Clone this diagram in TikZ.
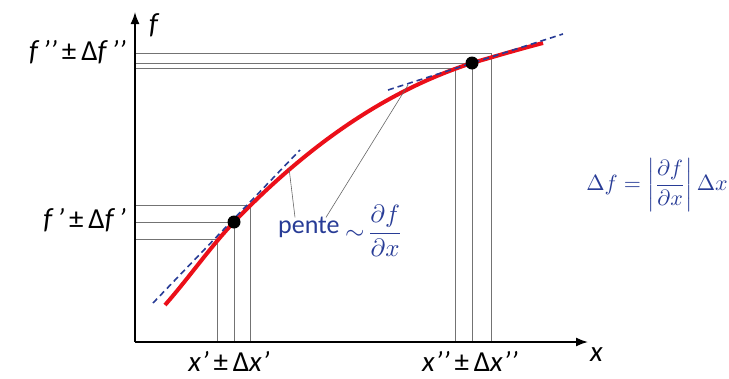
\documentclass[tikz,border=0pt]{standalone}
\usepackage{amsmath}
\usepackage{graphicx}
\usepackage{fontspec}
\setmainfont{Carlito}
\usetikzlibrary{arrows.meta}
\definecolor{cblue}{RGB}{40,60,150}
\definecolor{cred}{RGB}{235,15,25}
\begin{document}
\begin{tikzpicture}[x=1pt,y=-1pt,
  axis/.style={line width=1.6pt,-{Latex[length=12pt,width=9pt]}},
  guide/.style={line width=0.9pt,black!55},
  tangent/.style={line width=1.6pt,cblue,dash pattern=on 6pt off 4pt},
  curve/.style={line width=4pt,cred},
  leader/.style={line width=0.6pt,black!60},
  lbl/.style={font=\fontsize{29}{32}\selectfont,inner sep=0pt},
  mth/.style={font=\fontsize{10}{12}\selectfont,inner sep=0pt,text=cblue},
  dot/.style={circle,fill=black,inner sep=0pt,minimum size=13pt}]
\useasboundingbox (0,0) rectangle (729,378);
% axes
\coordinate (O) at (135,342);
\coordinate (ytop) at (135,12);
\coordinate (xend) at (588,342);
% guide lines
\coordinate (p1) at (234,222);
\coordinate (p1a) at (217,239);
\coordinate (p1b) at (250,205);
\coordinate (p2) at (472,63);
\coordinate (p2a) at (455,68);
\coordinate (p2b) at (491,53);
\foreach \p in {p1,p1a,p1b,p2,p2a,p2b}{
  \draw[guide] (\p) -- (\p |- O);
  \draw[guide] (\p) -- (O |- \p);
}
% tangents
\coordinate (t1s) at (153,303);
\coordinate (t1e) at (300,150);
\coordinate (t2s) at (388,90);
\coordinate (t2e) at (563,34);
% curve
\coordinate (cs) at (165,305);
\coordinate (ce) at (543,43);
\draw[curve] (cs) .. controls (188,279) and (211,246) .. (p1)
  .. controls (314,139) and (392,89) .. (p2)
  .. controls (496,56) and (520,49) .. (ce);
\draw[tangent] (t1s) -- (t1e);
\draw[tangent] (t2s) -- (t2e);
\draw[axis] (O) -- (ytop);
\draw[axis] (O) -- (xend);
\node[dot] (d1) at (p1) {};
\node[dot] (d2) at (p2) {};
% labels
\node[lbl,anchor=west] (fl) at (149,25) {\itshape f};
\node[lbl,anchor=west] (xl) at (590,355) {\itshape x};
\node[lbl,anchor=east] (f2) at (126,52) {{\itshape f\,’’}\,±\,Δ{\itshape f\,’’}};
\node[lbl,anchor=east] (f1) at (126,220) {{\itshape f\,’}\,±\,Δ{\itshape f\,’}};
\node[lbl] (x1) at (229,361) {{\itshape x’}\,±\,Δ{\itshape x’}};
\node[lbl] (x2) at (470,361) {{\itshape x’’}\,±\,Δ{\itshape x’’}};
% pente
\node[lbl,anchor=base west,text=cblue,font=\fontsize{26}{29}\selectfont] (pente) at (278,233) {pente};
\node[mth,anchor=west] (frac) at (345,231)
  {\scalebox{2.5}{$\sim\!\dfrac{\partial f}{\partial x}$}};
\coordinate (l1) at (289,168);
\coordinate (l2) at (408,85);
\draw[leader] (pente.north west) ++(17,1) coordinate (pa) -- (l1);
\draw[leader] (pente.north west) ++(48,1) coordinate (pb) -- (l2);
% formula
\node[mth] (form) at (657,185)
  {\scalebox{2.2}{$\Delta f=\left|\dfrac{\partial f}{\partial x}\right|\Delta x$}};
\end{tikzpicture}
\end{document}
